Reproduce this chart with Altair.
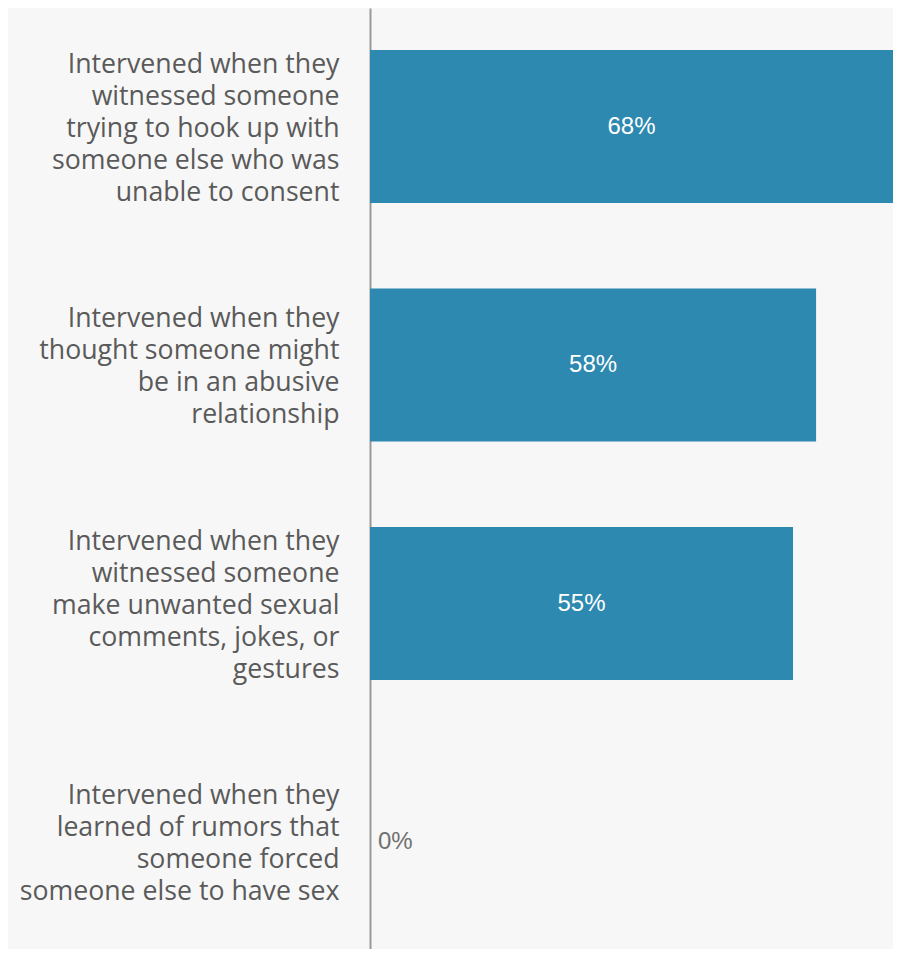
import altair as alt
import pandas as pd

categories = [
    "Intervened when they|witnessed someone|trying to hook up with|someone else who was|unable to consent",
    "Intervened when they|thought someone might|be in an abusive|relationship",
    "Intervened when they|witnessed someone|make unwanted sexual|comments, jokes, or|gestures",
    "Intervened when they|learned of rumors that|someone forced|someone else to have sex",
]
values = [68, 58, 55, 0]
labels = ["68%", "58%", "55%", "0%"]

df = pd.DataFrame({"cat": categories, "val": values, "lab": labels})
df["mid"] = df["val"] / 2

y_scale = alt.Scale(paddingInner=0.358, paddingOuter=0.1518, align=0.58)

y_enc = alt.Y(
    "cat:N",
    sort=None,
    title=None,
    scale=y_scale,
    axis=alt.Axis(
        labelExpr="split(datum.label, '|')",
        labelFont="Open Sans",
        labelFontSize=26.7,
        labelLineHeight=32,
        labelColor="#5a5a5a",
        labelPadding=31,
        labelLimit=400,
        labelOffset={
            "condition": {"test": "length(split(datum.label, '|')) == 5", "value": -62},
            "value": -46,
        },
        ticks=False,
        domainColor="#999999",
        domainWidth=2,
        grid=False,
    ),
)
x_scale = alt.Scale(domain=[0, 68], nice=False, zero=True)

base = alt.Chart(df)

bars = base.mark_bar(color="#2d89b0").encode(
    y=y_enc,
    x=alt.X("val:Q", scale=x_scale, axis=None),
)

inside = base.transform_filter("datum.val > 0").mark_text(
    font="Liberation Sans", fontSize=24, color="white", align="center", baseline="middle"
).encode(
    y=alt.Y("cat:N", sort=None, scale=y_scale),
    x=alt.X("mid:Q", scale=x_scale),
    text="lab:N",
)

outside = base.transform_filter("datum.val == 0").mark_text(
    font="Liberation Sans", fontSize=24, color="#707070", align="left", baseline="middle", dx=8
).encode(
    y=alt.Y("cat:N", sort=None, scale=y_scale),
    x=alt.X("val:Q", scale=x_scale),
    text="lab:N",
)

chart = (
    alt.layer(bars, inside, outside)
    .properties(
        width=523,
        height=941,
        background="#f7f7f7",
        padding={"left": 362, "top": 0, "right": 0, "bottom": 0},
        autosize=alt.AutoSizeParams(type="none"),
    )
    .configure_view(stroke=None)
)

chart.save("out.html", embed_options={"renderer": "svg", "actions": False})
